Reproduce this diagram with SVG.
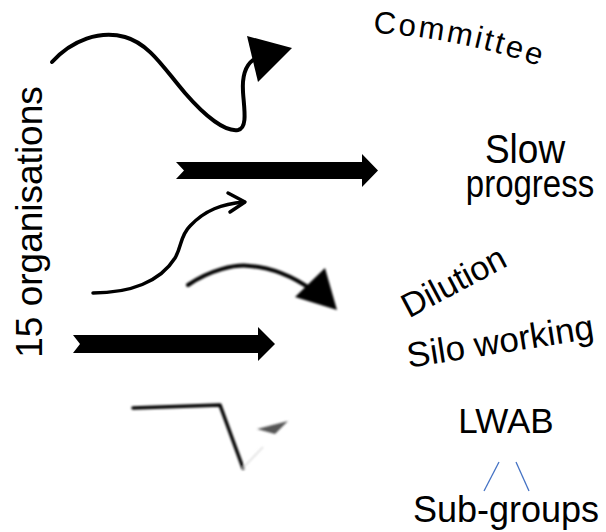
<svg xmlns="http://www.w3.org/2000/svg" width="606" height="532" viewBox="0 0 606 532">
  <style>
    .lbl { font-family: "Liberation Sans", Arial, sans-serif; fill: #000; }
    .curve { fill: none; stroke: #000; stroke-linecap: round; stroke-linejoin: round; }
    .block { fill: #000; }
    .tree { stroke: #4472C4; stroke-width: 1.3; }
  </style>
  <defs>
    <filter id="soft" x="-10%" y="-20%" width="120%" height="140%">
      <feGaussianBlur stdDeviation="0.9"/>
    </filter>
    <path id="arch" d="M330,32.1 A600,600 0 0 1 580,82.1"/>
  </defs>

  <rect width="606" height="532" fill="#fff"/>

  <g id="connectors">
    <!-- wavy arrow towards the committee -->
    <path class="curve" stroke-width="4" d="M52,62 C72,40 100,30 125,37 C150,44 165,70 185,93 C205,116 225,132 238,130 C248,128 244,108 243,92 C242,76 245,66 253,60"/>
    <polygon class="block" points="247,36 292,48 258,82"/>

    <!-- straight block arrow towards slow progress -->
    <polygon class="block" points="176,162 362,162 362,154 378,170.5 362,187 362,179 176,179 184,170.5"/>

    <!-- thin s-curve with open head -->
    <path class="curve" stroke-width="3.5" d="M93,293 C130,293 160,282 175,258 C182,246 180,236 190,226 C205,210 222,204 244,202"/>
    <polyline class="curve" stroke-width="3.5" points="228,193 245,202 230,212"/>

    <!-- arched arrow towards dilution -->
    <g filter="url(#soft)">
      <path class="curve" stroke-width="4" d="M188,285 C210,270 235,264 250,266 C275,268 295,278 312,290"/>
      <polygon class="block" points="325,268 337,310 295,297"/>
    </g>

    <!-- lower block arrow -->
    <polygon class="block" points="73,335 258,335 258,327 275,344 258,361 258,353 73,353 80,344"/>

    <!-- bent arrow with detached head -->
    <g filter="url(#soft)">
      <polyline class="curve" stroke-width="3.5" points="133,408 220,405 243,468"/>
      <line x1="243" y1="468" x2="263" y2="447" stroke="#ddd" stroke-width="1.5"/>
      <polygon fill="#555" points="257,429 288,421 275,434"/>
    </g>

    <!-- LWAB to sub-groups -->
    <line class="tree" x1="499" y1="462" x2="484" y2="491"/>
    <line class="tree" x1="516" y1="462" x2="529" y2="491"/>
  </g>

  <g id="organisations">
    <text class="lbl" font-size="37" text-anchor="middle" transform="translate(42,222) rotate(-90)">15 organisations</text>
  </g>

  <g id="committee">
    <text class="lbl" font-size="31" letter-spacing="2.5"><textPath href="#arch" startOffset="43">Committee</textPath></text>
  </g>

  <g id="slow-progress">
    <text class="lbl" font-size="37" text-anchor="middle" transform="translate(525,163) scale(1,1.08)">Slow</text>
    <text class="lbl" font-size="33" text-anchor="middle" transform="translate(530,197) scale(1,1.15)">progress</text>
  </g>

  <g id="dilution">
    <text class="lbl" font-size="34" text-anchor="middle" transform="translate(459,292) rotate(-28)">Dilution</text>
  </g>

  <g id="silo-working">
    <text class="lbl" font-size="35" text-anchor="middle" transform="translate(502,353) rotate(-9)">Silo working</text>
  </g>

  <g id="lwab">
    <text class="lbl" font-size="35" text-anchor="middle" x="506" y="433">LWAB</text>
  </g>

  <g id="sub-groups">
    <text class="lbl" font-size="36" text-anchor="middle" x="506" y="522">Sub-groups</text>
  </g>
</svg>
